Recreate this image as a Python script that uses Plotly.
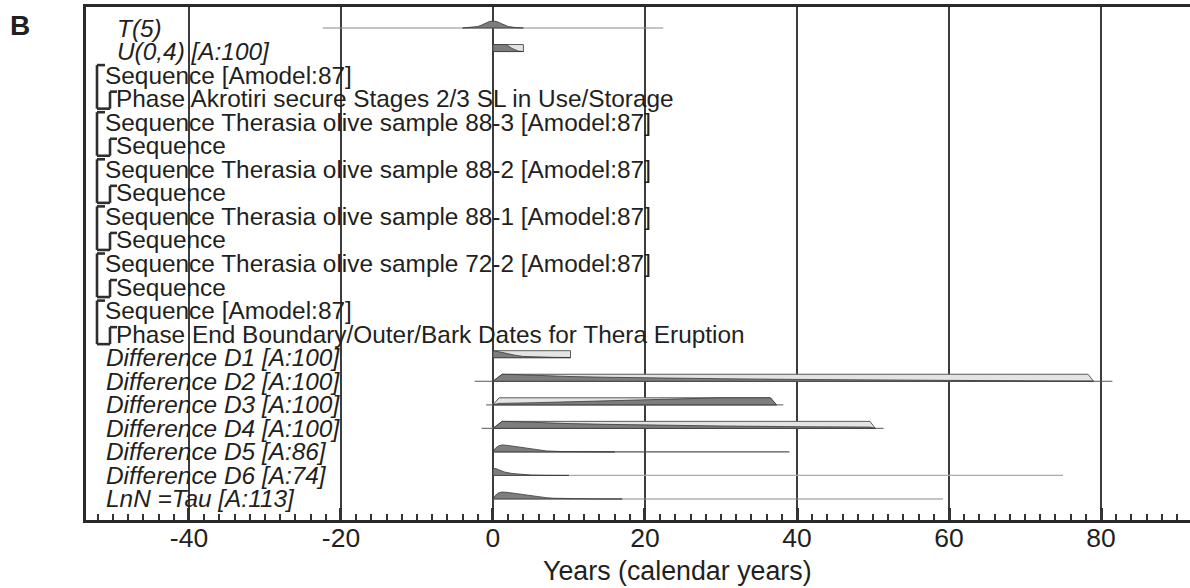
import plotly.graph_objects as go

# ---------------- data ----------------
row_labels = [
    "T(5)",
    "U(0,4) [A:100]",
    "Sequence [Amodel:87]",
    "Phase Akrotiri secure Stages 2/3 SL in Use/Storage",
    "Sequence Therasia olive sample 88-3 [Amodel:87]",
    "Sequence",
    "Sequence Therasia olive sample 88-2 [Amodel:87]",
    "Sequence",
    "Sequence Therasia olive sample 88-1 [Amodel:87]",
    "Sequence",
    "Sequence Therasia olive sample 72-2 [Amodel:87]",
    "Sequence",
    "Sequence [Amodel:87]",
    "Phase End Boundary/Outer/Bark Dates for Thera Eruption",
    "Difference D1 [A:100]",
    "Difference D2 [A:100]",
    "Difference D3 [A:100]",
    "Difference D4 [A:100]",
    "Difference D5 [A:86]",
    "Difference D6 [A:74]",
    "LnN =Tau [A:113]",
]
row_kinds = ["italic", "italic", "outer", "inner", "outer", "inner", "outer", "inner",
             "outer", "inner", "outer", "inner", "outer", "inner",
             "italicD", "italicD", "italicD", "italicD", "italicD", "italicD", "italicD"]

tick_vals = [-40, -20, 0, 20, 40, 60, 80]
tick_text = ["-40", "-20", "0", "20", "40", "60", "80"]

# baseline ranges (row, start, end, colour)
baseline_rows = [0, 15, 16, 17, 18, 19, 20]
baseline_start = [-22.4, -2.4, -0.9, -1.5, 0.0, 0.0, 0.0]
baseline_end = [22.4, 81.5, 38.2, 51.4, 39.0, 75.0, 59.2]
baseline_color = ["#8a8a8a", "#555555", "#777777", "#777777", "#555555", "#aaaaaa", "#8a8a8a"]

# prior (light) distributions: x, relative height
prior_U_x = [0, 0, 4, 4]
prior_U_h = [0, 1, 1, 0]
prior_D1_x = [0, 0, 10.2, 10.2]
prior_D1_h = [0, 1, 1, 0]
prior_D2_x = [0, 1.2, 78.3, 79.0]
prior_D2_h = [0, 1, 1, 0]
prior_D3_x = [0, 0.8, 36.5, 37.3]
prior_D3_h = [0, 1, 1, 0]
prior_D4_x = [0, 1.2, 49.6, 50.3]
prior_D4_h = [0, 1, 1, 0]

# posterior (dark) distributions
post_T5_x = [-4, -3, -2, -1.5, -1, -0.5, 0, 0.5, 1, 1.5, 2, 3, 4]
post_T5_h = [0, 0.06, 0.22, 0.42, 0.68, 0.92, 1.0, 0.92, 0.68, 0.42, 0.22, 0.06, 0]
post_U_x = [0, 0, 1.75, 2.5, 3.3, 4, 4]
post_U_h = [0, 1, 1, 0.45, 0.08, 0.03, 0]
post_D1_x = [0, 0, 1, 2, 3, 4, 6, 8, 10.2, 10.2]
post_D1_h = [0, 1, 0.8, 0.55, 0.33, 0.18, 0.08, 0.05, 0.03, 0]
post_D2_x = [0, 1.2, 3, 6, 10, 15, 20, 30, 40, 50, 60, 70, 78.3, 79.0]
post_D2_h = [0, 1, 0.95, 0.82, 0.68, 0.57, 0.48, 0.36, 0.26, 0.2, 0.15, 0.12, 0.1, 0]
post_D3_x = [0, 0.8, 5, 10, 15, 20, 25, 30, 36.5, 37.3]
post_D3_h = [0, 0.2, 0.28, 0.42, 0.58, 0.74, 0.9, 1.0, 1.0, 0]
post_D4_x = [0, 1.2, 3, 6, 10, 15, 20, 30, 40, 49.6, 50.3]
post_D4_h = [0, 1, 0.95, 0.82, 0.68, 0.57, 0.47, 0.34, 0.24, 0.18, 0]
post_D5_x = [0, 0.3, 0.7, 1.2, 2, 3, 4, 5, 6, 7, 9, 12, 16]
post_D5_h = [0, 0.5, 0.85, 1.0, 0.92, 0.75, 0.55, 0.38, 0.24, 0.14, 0.05, 0.015, 0]
post_D6_x = [0, 0, 0.3, 0.8, 1.5, 2.5, 3.5, 5, 7, 10]
post_D6_h = [0, 0.95, 1.0, 0.75, 0.5, 0.28, 0.15, 0.06, 0.02, 0]
post_LnN_x = [0, 0.3, 0.7, 1.2, 2, 3, 4, 5, 6, 7, 8, 10, 13, 17]
post_LnN_h = [0, 0.5, 0.85, 1.0, 0.93, 0.78, 0.6, 0.44, 0.3, 0.19, 0.11, 0.04, 0.01, 0]

priors = [(1, prior_U_x, prior_U_h), (14, prior_D1_x, prior_D1_h), (15, prior_D2_x, prior_D2_h),
          (16, prior_D3_x, prior_D3_h), (17, prior_D4_x, prior_D4_h)]
posts = [(0, post_T5_x, post_T5_h), (1, post_U_x, post_U_h), (14, post_D1_x, post_D1_h),
         (15, post_D2_x, post_D2_h), (16, post_D3_x, post_D3_h), (17, post_D4_x, post_D4_h),
         (18, post_D5_x, post_D5_h), (19, post_D6_x, post_D6_h), (20, post_LnN_x, post_LnN_h)]

# ---------------- layout geometry ----------------
W, Hpx = 1190, 588
L, R, T, B = 86, 0, 7, 68
XMIN, XMAX = -53.55, 91.71
YTOP, YBOT = -0.892, 20.892
px_per_year = (W - L - R) / (XMAX - XMIN)
px_per_row = (Hpx - T - B) / (YBOT - YTOP)


def px2x(px):
    return XMIN + (px - L) / px_per_year


HSCALE = 7.0 / px_per_row  # peak height of a distribution in row units
TXT = "#231f20"
FONT = "Arial, Liberation Sans, Helvetica, sans-serif"

fig = go.Figure()

# baselines
for r, s, e, c in zip(baseline_rows, baseline_start, baseline_end, baseline_color):
    fig.add_trace(go.Scatter(x=[s, e], y=[r, r], mode="lines",
                             line=dict(color=c, width=1.2), hoverinfo="skip", showlegend=False))

# priors (light)
for r, xs, hs in priors:
    fig.add_trace(go.Scatter(x=xs + [xs[0]], y=[r - h * HSCALE for h in hs] + [r - hs[0] * HSCALE],
                             mode="lines", fill="toself", fillcolor="#e4e4e4",
                             line=dict(color="#5a5a5a", width=1), hoverinfo="skip", showlegend=False))
# posteriors (dark)
for r, xs, hs in posts:
    fig.add_trace(go.Scatter(x=xs + [xs[0]], y=[r - h * HSCALE for h in hs] + [r - hs[0] * HSCALE],
                             mode="lines", fill="toself", fillcolor="#7d7d7d",
                             line=dict(color="#3a3a3a", width=0.8), hoverinfo="skip", showlegend=False))

# labels
annotations = []
shapes = []
for i, (lab, kind) in enumerate(zip(row_labels, row_kinds)):
    if kind == "italic":
        x0, txt = px2x(115), "<i>%s</i>" % lab
    elif kind == "italicD":
        x0, txt = px2x(104), "<i>%s</i>" % lab
    elif kind == "outer":
        x0, txt = px2x(103), lab
    else:
        x0, txt = px2x(114), lab
    annotations.append(dict(x=x0, y=i, xref="x", yref="y", text=txt, showarrow=False,
                            xanchor="left", yanchor="middle",
                            font=dict(family=FONT, size=24.4, color=TXT)))

# brackets for sequence / phase pairs
up = 10 / px_per_row
inner_up = 7 / px_per_row
bl = dict(color="#2e2e2e", width=2.6)
for i, kind in enumerate(row_kinds):
    if kind == "outer":
        top, bot = i - up, i + 1 + up
        xo, xi = px2x(97), px2x(110)
        shapes.append(dict(type="line", x0=xo, x1=xo, y0=top, y1=bot, xref="x", yref="y", line=bl))
        shapes.append(dict(type="line", x0=xo, x1=px2x(105), y0=top, y1=top, xref="x", yref="y", line=bl))
        shapes.append(dict(type="line", x0=xo, x1=xi, y0=bot, y1=bot, xref="x", yref="y", line=bl))
        itop = i + 1 - inner_up
        shapes.append(dict(type="line", x0=xi, x1=xi, y0=itop, y1=bot, xref="x", yref="y", line=bl))
        shapes.append(dict(type="line", x0=xi, x1=px2x(117), y0=itop, y1=itop, xref="x", yref="y", line=bl))

# axis title and panel letter
annotations.append(dict(x=(677 - L) / (W - L - R), y=(Hpx - B - 571) / (Hpx - T - B),
                        xref="paper", yref="paper", text="Years (calendar years)", showarrow=False,
                        xanchor="center", yanchor="middle", font=dict(family=FONT, size=26.8, color=TXT)))
annotations.append(dict(x=(20 - L) / (W - L - R), y=(Hpx - B - 25) / (Hpx - T - B),
                        xref="paper", yref="paper", text="<b>B</b>", showarrow=False,
                        xanchor="center", yanchor="middle", font=dict(family=FONT, size=28, color=TXT)))

fig.update_layout(
    width=W, height=Hpx,
    margin=dict(l=L, r=R, t=T, b=B, pad=0),
    paper_bgcolor="white", plot_bgcolor="white",
    showlegend=False,
    annotations=annotations, shapes=shapes,
    xaxis=dict(range=[XMIN, XMAX], tickvals=tick_vals, ticktext=tick_text,
               showgrid=True, gridcolor="#3c3c3c", gridwidth=1.5,
               ticks="inside", ticklen=12, tickwidth=3, tickcolor="#333333",
               showline=True, linecolor="#2a2a2a", linewidth=3, mirror=True,
               zeroline=False, tickfont=dict(family=FONT, size=26.5, color=TXT),
               ticklabelstandoff=-8,
               minor=dict(dtick=2, tick0=0, ticks="inside", ticklen=6, tickwidth=1.5,
                          tickcolor="#333333", showgrid=False)),
    yaxis=dict(range=[YBOT, YTOP], showgrid=False, showticklabels=False, ticks="",
               zeroline=False, showline=True, linecolor="#2a2a2a", linewidth=3, mirror=False),
)

fig.write_html("out.html")
